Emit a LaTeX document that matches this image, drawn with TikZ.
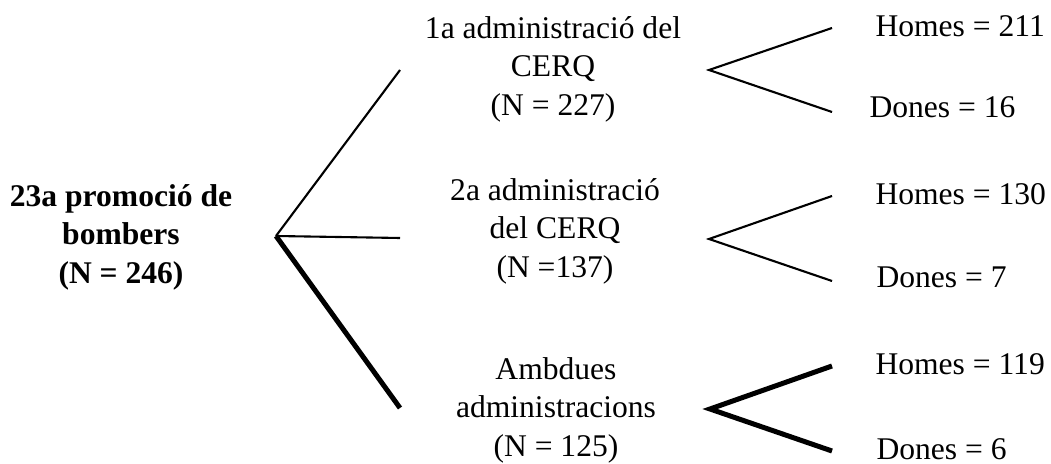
\documentclass[tikz,border=0pt]{standalone}
\usepackage{fontspec}
\setmainfont{Liberation Serif}
\usepackage{tikz}

\begin{document}
\begin{tikzpicture}[x=0.38pt,y=-0.38pt,
    branch/.style={draw,line width=0.8pt},
    thickbranch/.style={draw,line width=1.9pt},
    block/.style={align=center,inner sep=0pt,font=\fontsize{12}{14.6}\selectfont},
    count/.style={anchor=base west,inner sep=0pt,font=\fontsize{12}{14.6}\selectfont}]
              %\draw[help lines](0,0) grid (1051,464);
              \useasboundingbox (0,0) rectangle (1051,464);

              \node[block,font=\bfseries\fontsize{12}{14.6}\selectfont] (prom) at (121,237) {23a promoció de\\bombers\\(N = 246)};

              \node[block] (adm1) at (553,69) {1a administració del\\CERQ\\(N = 227)};
              \node[block] (adm2) at (555,231) {2a administració\\del CERQ\\(N =137)};
              \node[block] (adm3) at (556,410) {Ambdues\\administracions\\(N = 125)};

              \node[count] (h1) at (875,37) {Homes = 211};
              \node[count] (d1) at (869,118) {Dones = 16};
              \node[count] (h2) at (875,205) {Homes = 130};
              \node[count] (d2) at (876,288) {Dones = 7};
              \node[count] (h3) at (875,375) {Homes = 119};
              \node[count] (d3) at (876,460) {Dones = 6};

              \coordinate (root) at (276,236);
              \coordinate (r1) at (400,70);
              \coordinate (r2) at (400,238);
              \coordinate (r3) at (400,408);
              \path[branch] (root)--(r1);
              \path[branch] (root)--(r2);
              \path[thickbranch] (root)--(r3);

              \coordinate (f1) at (709,70);
              \coordinate (f1h) at (832,28);
              \coordinate (f1d) at (832,112);
              \path[branch] (f1h)--(f1)--(f1d);

              \coordinate (f2) at (709,239);
              \coordinate (f2h) at (832,196);
              \coordinate (f2d) at (832,281);
              \path[branch] (f2h)--(f2)--(f2d);

              \coordinate (f3) at (710,409);
              \coordinate (f3h) at (832,366);
              \coordinate (f3d) at (832,451);
              \path[thickbranch] (f3h)--(f3)--(f3d);
\end{tikzpicture}
\end{document}
